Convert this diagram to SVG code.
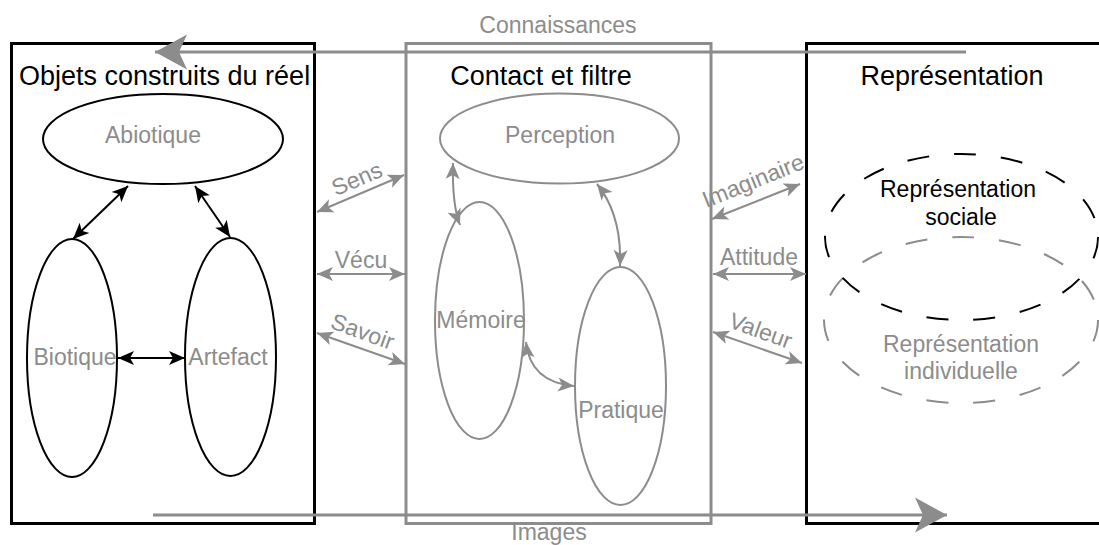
<svg xmlns="http://www.w3.org/2000/svg" width="1099" height="545" viewBox="0 0 1099 545">
<style>
text{font-family:"Liberation Sans",Arial,sans-serif;}
.title{font-size:27px;fill:#000;}
.lbl{font-size:23px;fill:#8c8c8c;}
.lblk{font-size:23px;fill:#000;}
.bk{fill:none;stroke:#000;stroke-width:2;}
.gr{fill:none;stroke:#8c8c8c;stroke-width:2;}
.bkl{fill:none;stroke:#000;stroke-width:2;marker-start:url(#ab);marker-end:url(#ab);}
.grl{fill:none;stroke:#8c8c8c;stroke-width:2;marker-start:url(#ag);marker-end:url(#ag);}
</style>
<defs>
<marker id="ab" markerUnits="userSpaceOnUse" viewBox="-17 -8 18 16" refX="0" refY="0" markerWidth="18" markerHeight="16" orient="auto-start-reverse">
<path d="M0,0 L-16,-7 L-12,0 L-16,7 Z" fill="#000"/>
</marker>
<marker id="ag" markerUnits="userSpaceOnUse" viewBox="-17 -8 18 16" refX="0" refY="0" markerWidth="18" markerHeight="16" orient="auto-start-reverse">
<path d="M0,0 L-16,-7 L-12,0 L-16,7 Z" fill="#8c8c8c"/>
</marker>
<marker id="big" markerUnits="userSpaceOnUse" viewBox="-34 -19 35 38" refX="0" refY="0" markerWidth="35" markerHeight="38" orient="auto">
<path d="M0,0 L-32,-17.5 L-24,0 L-32,17.5 Z" fill="#8c8c8c"/>
</marker>
</defs>

<g id="box-objets">
<rect x="11.5" y="43.5" width="303" height="480" fill="none" stroke="#000" stroke-width="3"/>
<text class="title" x="19" y="85">Objets construits du réel</text>
</g>
<g id="box-contact">
<rect x="406" y="43.5" width="305" height="480" fill="none" stroke="#8c8c8c" stroke-width="3"/>
<text class="title" x="541" y="85" text-anchor="middle">Contact et filtre</text>
</g>
<g id="box-representation">
<rect x="806.5" y="43.5" width="300" height="480" fill="none" stroke="#000" stroke-width="3"/>
<text class="title" x="952" y="85" text-anchor="middle">Représentation</text>
</g>

<g id="abiotique">
<ellipse class="bk" cx="163" cy="139" rx="120" ry="45"/>
<text class="lbl" x="153" y="143" text-anchor="middle">Abiotique</text>
</g>
<g id="biotique">
<ellipse class="bk" cx="72" cy="358" rx="45" ry="119"/>
<text class="lbl" x="75" y="365" text-anchor="middle">Biotique</text>
</g>
<g id="artefact">
<ellipse class="bk" cx="230.5" cy="357" rx="45.5" ry="119"/>
<text class="lbl" x="228" y="365" text-anchor="middle">Artefact</text>
</g>

<g id="perception">
<ellipse class="gr" cx="559.5" cy="138.5" rx="119.5" ry="45"/>
<text class="lbl" x="560" y="143" text-anchor="middle">Perception</text>
</g>
<g id="memoire">
<ellipse class="gr" cx="479.5" cy="320.5" rx="44.5" ry="118.5"/>
<text class="lbl" x="481" y="328" text-anchor="middle">Mémoire</text>
</g>
<g id="pratique">
<ellipse class="gr" cx="620.5" cy="386" rx="45.5" ry="119"/>
<text class="lbl" x="621" y="418" text-anchor="middle">Pratique</text>
</g>

<g id="rep-individuelle">
<ellipse cx="961" cy="320" rx="137" ry="83" fill="none" stroke="#8c8c8c" stroke-width="2" stroke-dasharray="22 25"/>
<text class="lbl" x="961" y="352" text-anchor="middle">Représentation</text>
<text class="lbl" x="961" y="379" text-anchor="middle">individuelle</text>
</g>
<g id="rep-sociale">
<ellipse cx="961.5" cy="237" rx="136.5" ry="83" fill="none" stroke="#000" stroke-width="2" stroke-dasharray="22 25"/>
<text class="lblk" x="958" y="197" text-anchor="middle">Représentation</text>
<text class="lblk" x="961" y="225" text-anchor="middle">sociale</text>
</g>

<g id="connectors">
<line x1="966" y1="52" x2="155" y2="52" stroke="#8c8c8c" stroke-width="3" marker-end="url(#big)"/>
<text class="lbl" x="558" y="33" text-anchor="middle">Connaissances</text>
<line x1="153" y1="515" x2="947" y2="515" stroke="#8c8c8c" stroke-width="3" marker-end="url(#big)"/>
<text class="lbl" x="549" y="540" text-anchor="middle">Images</text>

<line class="bkl" x1="128" y1="186" x2="73" y2="239"/>
<line class="bkl" x1="195" y1="186" x2="230" y2="237"/>
<line class="bkl" x1="118" y1="358" x2="185" y2="358"/>

<line class="grl" x1="317" y1="212" x2="404" y2="175"/>
<text class="lbl" transform="translate(360,186) rotate(-23)" text-anchor="middle">Sens</text>
<line class="grl" x1="317" y1="274" x2="405" y2="274"/>
<text class="lbl" x="361" y="268" text-anchor="middle">Vécu</text>
<line class="grl" x1="317" y1="333" x2="405" y2="364"/>
<text class="lbl" transform="translate(360,339) rotate(20)" text-anchor="middle">Savoir</text>

<line class="grl" x1="712" y1="219" x2="800" y2="184"/>
<text class="lbl" transform="translate(756,188) rotate(-22)" text-anchor="middle">Imaginaire</text>
<line class="grl" x1="713" y1="274" x2="806" y2="274"/>
<text class="lbl" x="759" y="265" text-anchor="middle">Attitude</text>
<line class="grl" x1="713" y1="332" x2="802" y2="363"/>
<text class="lbl" transform="translate(758,338) rotate(20)" text-anchor="middle">Valeur</text>

<path class="grl" d="M453,163 Q452,205 460,225"/>
<path class="grl" d="M597,184 Q622,215 620,266"/>
<path class="grl" d="M526,342 Q530,382 574,386"/>
</g>
</svg>
